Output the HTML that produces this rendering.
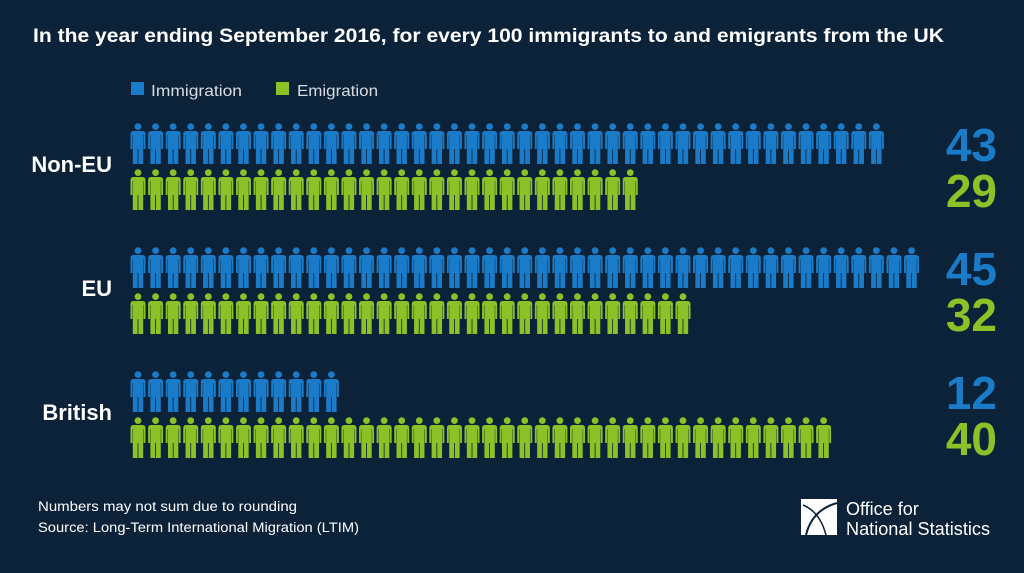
<!DOCTYPE html>
<html><head><style>
body{margin:0;background:#0b2238;width:1024px;height:568px;overflow:hidden;font-family:"Liberation Sans",sans-serif;}
</style></head><body>
<svg width="1024" height="568" xmlns="http://www.w3.org/2000/svg">
<defs>
<g id="p">
<circle cx="8" cy="3.6" r="3.4"/>
<path d="M3.5,8 H12.5 Q15.5,8 15.5,11 V26 H13.6 V12 H13.2 V41 H8.4 V26 H7.6 V41 H2.8 V12 H2.4 V26 H0.5 V11 Q0.5,8 3.5,8 Z"/>
</g>
</defs>
<rect width="1024" height="568" fill="#0b2238"/>
<text x="33" y="42" fill="#fff" font-size="19" font-weight="bold" textLength="911" lengthAdjust="spacingAndGlyphs">In the year ending September 2016, for every 100 immigrants to and emigrants from the UK</text>
<rect x="131" y="82" width="13" height="13" fill="#1a7bc9"/>
<text x="151" y="96" fill="#d8dde3" font-size="16" textLength="91" lengthAdjust="spacingAndGlyphs">Immigration</text>
<rect x="276" y="82" width="13" height="13" fill="#8dc127"/>
<text x="297" y="96" fill="#d8dde3" font-size="16" textLength="81" lengthAdjust="spacingAndGlyphs">Emigration</text>
<g font-weight="bold" fill="#fff" font-size="22" text-anchor="end">
<text x="112" y="172">Non-EU</text>
<text x="112" y="296">EU</text>
<text x="112" y="420">British</text>
</g>
<g font-weight="bold" font-size="46" text-anchor="end">
<text x="997" y="161" fill="#1a7bc9">43</text>
<text x="997" y="207" fill="#8dc127">29</text>
<text x="997" y="285" fill="#1a7bc9">45</text>
<text x="997" y="331" fill="#8dc127">32</text>
<text x="997" y="409" fill="#1a7bc9">12</text>
<text x="997" y="455" fill="#8dc127">40</text>
</g>
<g id="rows"></g>
<text x="38" y="511" fill="#fff" font-size="13.5" textLength="259" lengthAdjust="spacingAndGlyphs">Numbers may not sum due to rounding</text>
<text x="38" y="532" fill="#fff" font-size="13.5" textLength="321" lengthAdjust="spacingAndGlyphs">Source: Long-Term International Migration (LTIM)</text>
<rect x="801" y="499" width="36" height="36" fill="#fff"/>
<path d="M806,535 Q812,510 837,503" stroke="#0b2238" stroke-width="2" fill="none"/>
<path d="M803,505 Q820,512 826,535" stroke="#0b2238" stroke-width="1.5" fill="none"/>
<text x="846" y="515" fill="#fff" font-size="18">Office for</text>
<text x="846" y="535" fill="#fff" font-size="18" textLength="144" lengthAdjust="spacingAndGlyphs">National Statistics</text>
</svg>
<script>
var rows=[[123,43,"#1a7bc9"],[169,29,"#8dc127"],[247,45,"#1a7bc9"],[293,32,"#8dc127"],[371,12,"#1a7bc9"],[417,40,"#8dc127"]];
var g=document.getElementById("rows"),s="";
rows.forEach(function(r){for(var i=0;i<r[1];i++){s+='<use href="#p" x="'+(130+i*17.58).toFixed(2)+'" y="'+r[0]+'" fill="'+r[2]+'"/>';}});
g.innerHTML=s;
</script>
</body></html>
